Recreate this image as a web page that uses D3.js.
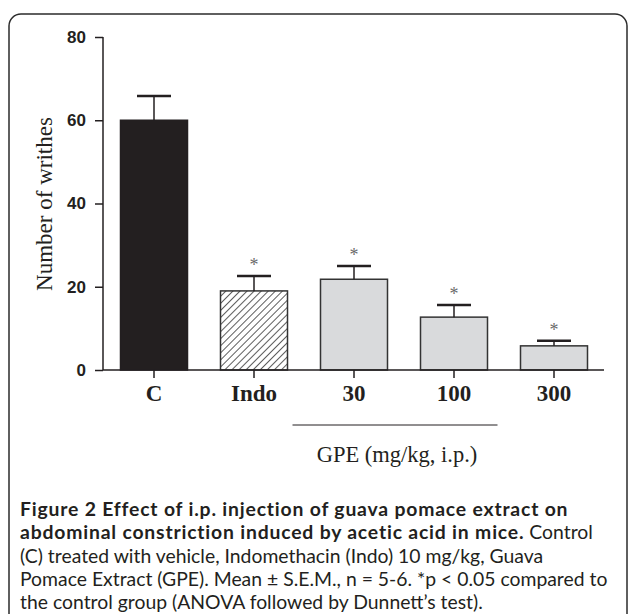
<!DOCTYPE html>
<html>
<head>
<meta charset="utf-8">
<script src="https://cdn.jsdelivr.net/npm/d3@7"></script>
<style>
  body { margin: 0; background: #fff; }
</style>
</head>
<body>
<script>
var categories = ["C", "Indo", "30", "100", "300"];
var means = [60, 19, 21.8, 12.7, 5.8];
var sems = [5.8, 3.6, 3.2, 2.9, 1.2];
var significant = [false, true, true, true, true];
var yTicks = [0, 20, 40, 60, 80];

var width = 629, height = 614;

var svg = d3.select("body")
    .append("svg")
    .attr("width", width)
    .attr("height", height);

svg.append("rect")
    .attr("width", width).attr("height", height)
    .attr("fill", "#fff");

// frame round the figure, bottom runs off the page
svg.append("rect")
    .attr("x", 9).attr("y", 14)
    .attr("width", 618).attr("height", 640)
    .attr("rx", 12)
    .attr("fill", "none")
    .attr("stroke", "#2b2b2b")
    .attr("stroke-width", 1.5);

var defs = svg.append("defs");
var pat = defs.append("pattern")
    .attr("id", "hatch")
    .attr("patternUnits", "userSpaceOnUse")
    .attr("width", 5).attr("height", 5)
    .attr("patternTransform", "rotate(45)");
pat.append("rect").attr("width", 5).attr("height", 5).attr("fill", "#fff");
pat.append("line")
    .attr("x1", 0).attr("y1", 0).attr("x2", 0).attr("y2", 5)
    .attr("stroke", "#333").attr("stroke-width", 1.6);

var xScale = d3.scaleBand()
    .domain(categories)
    .range([104, 604])
    .paddingInner(0.33)
    .paddingOuter(0.165);

var yScale = d3.scaleLinear()
    .domain([0, 80])
    .range([370, 37]);

var fills = ["#231f20", "url(#hatch)", "#d9dadc", "#d9dadc", "#d9dadc"];

var g = svg.append("g");

g.selectAll("rect.bar")
    .data(categories)
    .join("rect")
    .attr("class", "bar")
    .attr("x", d => xScale(d))
    .attr("width", xScale.bandwidth())
    .attr("y", (d, i) => yScale(means[i]))
    .attr("height", (d, i) => yScale(0) - yScale(means[i]))
    .attr("fill", (d, i) => fills[i])
    .attr("stroke", (d, i) => i == 0 ? "#231f20" : "#333")
    .attr("stroke-width", 1.5);

// error bars
g.selectAll("line.err")
    .data(categories)
    .join("line")
    .attr("class", "err")
    .attr("x1", d => xScale(d) + xScale.bandwidth() / 2)
    .attr("x2", d => xScale(d) + xScale.bandwidth() / 2)
    .attr("y1", (d, i) => yScale(means[i]))
    .attr("y2", (d, i) => yScale(means[i] + sems[i]))
    .attr("stroke", "#231f20")
    .attr("stroke-width", 1.5);

g.selectAll("line.cap")
    .data(categories)
    .join("line")
    .attr("class", "cap")
    .attr("x1", d => xScale(d) + xScale.bandwidth() / 2 - 17)
    .attr("x2", d => xScale(d) + xScale.bandwidth() / 2 + 17)
    .attr("y1", (d, i) => yScale(means[i] + sems[i]))
    .attr("y2", (d, i) => yScale(means[i] + sems[i]))
    .attr("stroke", "#231f20")
    .attr("stroke-width", 2.5);

g.selectAll("text.star")
    .data(categories.filter((d, i) => significant[i]))
    .join("text")
    .attr("class", "star")
    .attr("x", d => xScale(d) + xScale.bandwidth() / 2)
    .attr("y", d => {
        var i = categories.indexOf(d);
        return yScale(means[i] + sems[i]) - 5;
    })
    .attr("text-anchor", "middle")
    .attr("font-family", "Liberation Serif, serif")
    .attr("font-size", 18)
    .attr("fill", "#6a6a6a")
    .text("*");

// axes
var yAxis = d3.axisLeft(yScale)
    .tickValues(yTicks)
    .tickSize(8)
    .tickSizeOuter(0)
    .tickPadding(9);

var yg = svg.append("g")
    .attr("transform", "translate(103,0)")
    .call(yAxis);
yg.select(".domain").attr("stroke", "#231f20").attr("stroke-width", 1.5)
    .attr("d", "M0," + yScale(80) + "V" + yScale(0));
yg.selectAll(".tick line").attr("stroke", "#231f20").attr("stroke-width", 1.5);
yg.selectAll(".tick text")
    .attr("font-family", "Liberation Sans, Arial, sans-serif")
    .attr("font-weight", "bold")
    .attr("font-size", 17)
    .attr("fill", "#231f20");

var xAxis = d3.axisBottom(xScale)
    .tickSize(8)
    .tickSizeOuter(0)
    .tickPadding(7);

var xg = svg.append("g")
    .attr("transform", "translate(0,370)")
    .call(xAxis);
xg.select(".domain").attr("stroke", "#231f20").attr("stroke-width", 1.5)
    .attr("d", "M103,0H604");
xg.selectAll(".tick line").attr("stroke", "#231f20").attr("stroke-width", 1.5);
xg.selectAll(".tick text")
    .attr("font-family", "Liberation Serif, Times New Roman, serif")
    .attr("font-weight", "bold")
    .attr("font-size", 23)
    .attr("fill", "#231f20");

// GPE bracket
svg.append("line")
    .attr("x1", xScale("30") - 28).attr("x2", xScale("100") + xScale.bandwidth() + 10)
    .attr("y1", 425).attr("y2", 425)
    .attr("stroke", "#231f20").attr("stroke-width", 1);

svg.append("text")
    .attr("x", 397).attr("y", 462)
    .attr("text-anchor", "middle")
    .attr("font-family", "Liberation Serif, Times New Roman, serif")
    .attr("font-size", 22.5)
    .attr("fill", "#231f20")
    .text("GPE (mg/kg, i.p.)");

svg.append("text")
    .attr("transform", "translate(52,204) rotate(-90)")
    .attr("text-anchor", "middle")
    .attr("font-family", "Liberation Serif, Times New Roman, serif")
    .attr("font-size", 23)
    .attr("fill", "#231f20")
    .text("Number of writhes");

// caption
var caption = [
    [["Figure 2 Effect of i.p. injection of guava pomace extract on", true]],
    [["abdominal constriction induced by acetic acid in mice.", true], [" Control", false]],
    [["(C) treated with vehicle, Indomethacin (Indo) 10 mg/kg, Guava", false]],
    [["Pomace Extract (GPE). Mean \u00b1 S.E.M., n = 5-6. *p < 0.05 compared to", false]],
    [["the control group (ANOVA followed by Dunnett\u2019s test).", false]]
];

var capSize = 19;
var lines = caption.map(function(line, li) {
    var t = svg.append("text")
        .attr("x", 20).attr("y", 516 + li * 23.3)
        .attr("font-family", "Lato, sans-serif")
        .attr("font-size", capSize)
        .attr("fill", "#231f20");
    line.forEach(function(part) {
        t.append("tspan")
            .attr("font-weight", part[1] ? "bold" : "normal")
            .text(part[0]);
    });
    return t;
});

// line 4 should end near x=608
var w4 = lines[3].node().getComputedTextLength();
var s = Math.min(19.4, capSize * 588 / w4);
lines.forEach(t => t.attr("font-size", s));

// the bold sentence runs wider in the original: line 1 ends near x=568
var w1 = lines[0].node().getComputedTextLength();
var n1 = caption[0][0][0].length;
var ls = Math.max(0, Math.min(1.2, (548 - w1) / n1));
svg.selectAll("tspan").filter(function() { return d3.select(this).attr("font-weight") == "bold"; })
    .attr("letter-spacing", ls);
</script>
</body>
</html>
